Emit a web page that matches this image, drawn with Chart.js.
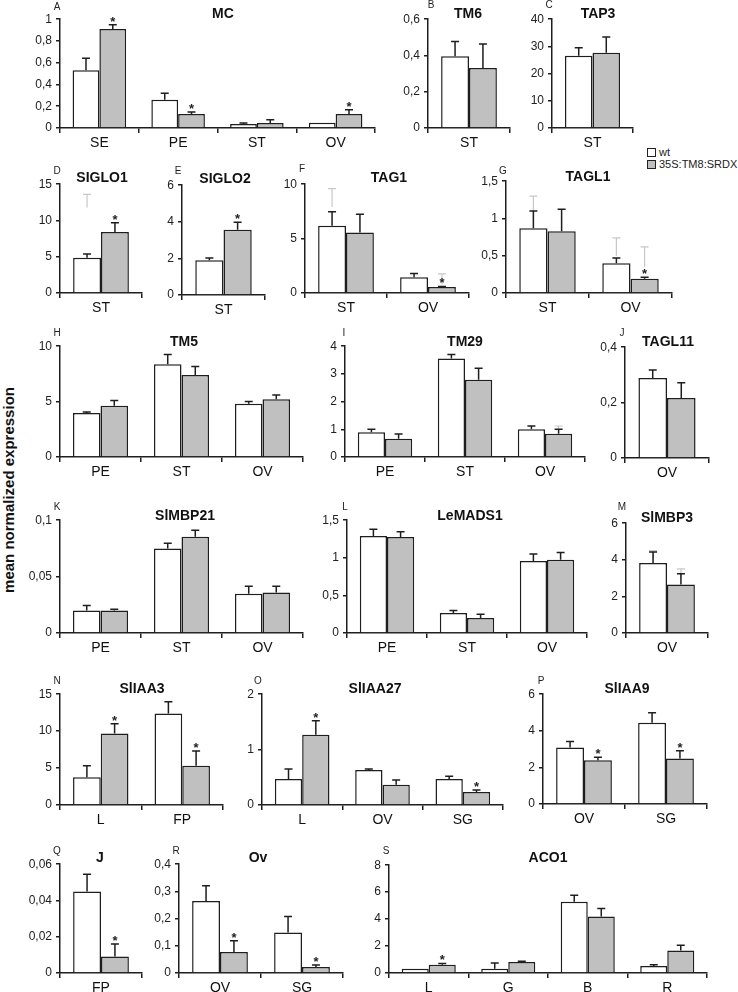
<!DOCTYPE html>
<html>
<head>
<meta charset="utf-8">
<script src="https://cdn.jsdelivr.net/npm/chart.js@4.4.1/dist/chart.umd.min.js"></script>
<style>
  body { margin: 0; background: #fff; width: 738px; height: 992px; position: relative; overflow: hidden;
         font-family: "Liberation Sans", Arial, sans-serif; color: #222; }
  canvas { position: absolute; }
  .ttl { position: absolute; font-weight: bold; font-size: 14px; transform: translate(-50%, -50%); white-space: nowrap; color: #111; }
  .let { position: absolute; font-size: 10px; transform: translate(-50%, -50%); }
  .ylab { position: absolute; left: 8px; top: 490px; font-weight: bold; font-size: 15px; white-space: nowrap;
          transform: translate(-50%, -50%) rotate(-90deg); color: #111; }
  .leg { position: absolute; font-size: 11px; white-space: nowrap; }
  .leg i { display: inline-block; width: 7px; height: 7px; border: 1px solid #222; margin-right: 3px; vertical-align: -1px; }
</style>
</head>
<body>
<div class="ylab">mean normalized expression</div>
<div class="leg" style="left:647px;top:146px"><i style="background:#fff"></i>wt</div>
<div class="leg" style="left:647px;top:158px"><i style="background:#c0c0c0"></i>35S:TM8:SRDX</div>
<script>
// A - MC
const A_cats = ["SE", "PE", "ST", "OV"];
const A_wt = [0.53, 0.26, 0.037, 0.049];
const A_wtSd = [0.11, 0.06, 0.009, 0];
const A_mut = [0.91, 0.128, 0.046, 0.128];
const A_mutSd = [0.04, 0.018, 0.03, 0.04];
const A_star = [1, 1, 0, 1];

// B - TM6
const B_cats = ["ST"];
const B_wt = [0.395];
const B_wtSd = [0.082];
const B_mut = [0.331];
const B_mutSd = [0.132];

// C - TAP3
const C_cats = ["ST"];
const C_wt = [26.6];
const C_wtSd = [2.9];
const C_mut = [27.7];
const C_mutSd = [5.8];

// D - SIGLO1
const D_cats = ["ST"];
const D_wt = [4.86];
const D_wtSd = [0.5];
const D_mut = [8.4];
const D_mutSd = [1.3];
const D_star = [1];
const D_wtGhost = [[11.8, 13.6]];

// E - SIGLO2
const E_cats = ["ST"];
const E_wt = [1.9];
const E_wtSd = [0.12];
const E_mut = [3.56];
const E_mutSd = [0.42];
const E_star = [1];

// F - TAG1
const F_cats = ["ST", "OV"];
const F_wt = [6.17, 1.45];
const F_wtSd = [1.3, 0.35];
const F_mut = [5.57, 0.54];
const F_mutSd = [1.66, 0.06];
const F_star = [0, 1];
const F_wtGhost = [[7.9, 9.6], null];
const F_mutGhost = [null, [0.8, 1.75]];

// G - TAGL1
const G_cats = ["ST", "OV"];
const G_wt = [0.87, 0.40];
const G_wtSd = [0.23, 0.07];
const G_mut = [0.83, 0.19];
const G_mutSd = [0.295, 0.02];
const G_star = [0, 1];
const G_wtGhost = [[0.95, 1.30], [0.5, 0.74]];
const G_mutGhost = [null, [0.35, 0.62]];

// H - TM5
const H_cats = ["PE", "ST", "OV"];
const H_wt = [3.98, 8.37, 4.81];
const H_wtSd = [0.09, 0.89, 0.2];
const H_mut = [4.63, 7.39, 5.22];
const H_mutSd = [0.47, 0.77, 0.38];

// I - TM29
const I_cats = ["PE", "ST", "OV"];
const I_wt = [0.89, 3.56, 1.0];
const I_wtSd = [0.11, 0.14, 0.12];
const I_mut = [0.66, 2.79, 0.84];
const I_mutSd = [0.17, 0.41, 0.16];
const I_mutGhost = [null, null, [1.0, 1.12]];

// J - TAGL11
const J_cats = ["OV"];
const J_wt = [0.289];
const J_wtSd = [0.029];
const J_mut = [0.217];
const J_mutSd = [0.055];

// K - SlMBP21
const K_cats = ["PE", "ST", "OV"];
const K_wt = [0.0199, 0.0749, 0.0348];
const K_wtSd = [0.0044, 0.0046, 0.0067];
const K_mut = [0.0199, 0.0854, 0.036];
const K_mutSd = [0.0011, 0.0056, 0.0055];

// L - LeMADS1
const L_cats = ["PE", "ST", "OV"];
const L_wt = [1.29, 0.265, 0.957];
const L_wtSd = [0.09, 0.035, 0.093];
const L_mut = [1.275, 0.2, 0.975];
const L_mutSd = [0.07, 0.05, 0.095];

// M - SlMBP3
const M_cats = ["OV"];
const M_wt = [3.83];
const M_wtSd = [0.59];
const M_mut = [2.65];
const M_mutSd = [0.59];
const M_wtGhost = [[4.0, 4.5]];
const M_mutGhost = [[3.0, 3.5]];

// N - SlIAA3
const N_cats = ["L", "FP"];
const N_wt = [3.76, 12.4];
const N_wtSd = [1.57, 1.57];
const N_mut = [9.67, 5.33];
const N_mutSd = [1.33, 1.97];
const N_star = [1, 1];

// O - SlIAA27
const O_cats = ["L", "OV", "SG"];
const O_wt = [0.47, 0.63, 0.47];
const O_wtSd = [0.18, 0.02, 0.05];
const O_mut = [1.27, 0.366, 0.234];
const O_mutSd = [0.25, 0.084, 0.036];
const O_star = [1, 0, 1];

// P - SlIAA9
const P_cats = ["OV", "SG"];
const P_wt = [3.09, 4.44];
const P_wtSd = [0.32, 0.54];
const P_mut = [2.39, 2.48];
const P_mutSd = [0.16, 0.43];
const P_star = [1, 1];

// Q - J
const Q_cats = ["FP"];
const Q_wt = [0.0449];
const Q_wtSd = [0.0096];
const Q_mut = [0.0091];
const Q_mutSd = [0.0069];
const Q_star = [1];

// R - Ov
const R_cats = ["OV", "SG"];
const R_wt = [0.265, 0.149];
const R_wtSd = [0.056, 0.059];
const R_mut = [0.0776, 0.0218];
const R_mutSd = [0.041, 0.008];
const R_star = [1, 1];

// S - ACO1
const S_cats = ["L", "G", "B", "R"];
const S_wt = [0.32, 0.32, 5.28, 0.52];
const S_wtSd = [0, 0.42, 0.49, 0.09];
const S_mut = [0.61, 0.81, 4.2, 1.67];
const S_mutSd = [0.1, 0.07, 0.59, 0.39];
const S_star = [1, 0, 0, 0];

// panel layout: box = [y axis x, x axis end, top of y axis, zero line y]
const panels = [
  { letter: "A", title: "MC", cats: A_cats, wt: A_wt, wtSd: A_wtSd, mut: A_mut, mutSd: A_mutSd, star: A_star,
    max: 1, step: 0.2, box: [60, 375, 18, 128], titleAt: [223, 13], letterAt: [57, 6] },
  { letter: "B", title: "TM6", cats: B_cats, wt: B_wt, wtSd: B_wtSd, mut: B_mut, mutSd: B_mutSd,
    max: 0.6, step: 0.2, box: [428, 510, 18, 128], titleAt: [468, 13], letterAt: [431, 4] },
  { letter: "C", title: "TAP3", cats: C_cats, wt: C_wt, wtSd: C_wtSd, mut: C_mut, mutSd: C_mutSd,
    max: 40, step: 10, box: [552, 633, 18, 128], titleAt: [598, 13], letterAt: [549, 4] },
  { letter: "D", title: "SIGLO1", cats: D_cats, wt: D_wt, wtSd: D_wtSd, mut: D_mut, mutSd: D_mutSd, star: D_star, wtGhost: D_wtGhost,
    max: 15, step: 5, box: [60, 142, 183, 293], titleAt: [102, 177], letterAt: [57, 170] },
  { letter: "E", title: "SIGLO2", cats: E_cats, wt: E_wt, wtSd: E_wtSd, mut: E_mut, mutSd: E_mutSd, star: E_star,
    max: 6, step: 2, box: [182, 265, 184, 295], titleAt: [225, 178], letterAt: [178, 170] },
  { letter: "F", title: "TAG1", cats: F_cats, wt: F_wt, wtSd: F_wtSd, mut: F_mut, mutSd: F_mutSd, star: F_star,
    wtGhost: F_wtGhost, mutGhost: F_mutGhost,
    max: 10, step: 5, box: [305, 469, 183, 293], titleAt: [389, 177], letterAt: [302, 168] },
  { letter: "G", title: "TAGL1", cats: G_cats, wt: G_wt, wtSd: G_wtSd, mut: G_mut, mutSd: G_mutSd, star: G_star,
    wtGhost: G_wtGhost, mutGhost: G_mutGhost,
    max: 1.5, step: 0.5, box: [506, 672, 180, 293], titleAt: [588, 176], letterAt: [503, 170] },
  { letter: "H", title: "TM5", cats: H_cats, wt: H_wt, wtSd: H_wtSd, mut: H_mut, mutSd: H_mutSd,
    max: 10, step: 5, box: [60, 303, 345, 457], titleAt: [184, 341], letterAt: [57, 332] },
  { letter: "I", title: "TM29", cats: I_cats, wt: I_wt, wtSd: I_wtSd, mut: I_mut, mutSd: I_mutSd, mutGhost: I_mutGhost,
    max: 4, step: 1, box: [345, 585, 345, 457], titleAt: [465, 341], letterAt: [344, 332] },
  { letter: "J", title: "TAGL11", cats: J_cats, wt: J_wt, wtSd: J_wtSd, mut: J_mut, mutSd: J_mutSd,
    max: 0.4, step: 0.2, box: [625, 709, 346, 458], titleAt: [668, 341], letterAt: [622, 332] },
  { letter: "K", title: "SlMBP21", cats: K_cats, wt: K_wt, wtSd: K_wtSd, mut: K_mut, mutSd: K_mutSd,
    max: 0.1, step: 0.05, box: [60, 303, 519, 633], titleAt: [185, 515], letterAt: [57, 506] },
  { letter: "L", title: "LeMADS1", cats: L_cats, wt: L_wt, wtSd: L_wtSd, mut: L_mut, mutSd: L_mutSd,
    max: 1.5, step: 0.5, box: [347, 587, 519, 633], titleAt: [470, 515], letterAt: [345, 506] },
  { letter: "M", title: "SlMBP3", cats: M_cats, wt: M_wt, wtSd: M_wtSd, mut: M_mut, mutSd: M_mutSd,
    wtGhost: M_wtGhost, mutGhost: M_mutGhost,
    max: 6, step: 2, box: [626, 708, 522, 633], titleAt: [667, 517], letterAt: [622, 506] },
  { letter: "N", title: "SlIAA3", cats: N_cats, wt: N_wt, wtSd: N_wtSd, mut: N_mut, mutSd: N_mutSd, star: N_star,
    max: 15, step: 5, box: [60, 223, 693, 805], titleAt: [142, 688], letterAt: [57, 680] },
  { letter: "O", title: "SlIAA27", cats: O_cats, wt: O_wt, wtSd: O_wtSd, mut: O_mut, mutSd: O_mutSd, star: O_star,
    max: 2, step: 1, box: [262, 503, 693, 805], titleAt: [375, 688], letterAt: [258, 680] },
  { letter: "P", title: "SlIAA9", cats: P_cats, wt: P_wt, wtSd: P_wtSd, mut: P_mut, mutSd: P_mutSd, star: P_star,
    max: 6, step: 2, box: [543, 707, 693, 804], titleAt: [627, 688], letterAt: [541, 680] },
  { letter: "Q", title: "J", cats: Q_cats, wt: Q_wt, wtSd: Q_wtSd, mut: Q_mut, mutSd: Q_mutSd, star: Q_star,
    max: 0.06, step: 0.02, box: [60, 142, 863, 973], titleAt: [100, 857], letterAt: [57, 850] },
  { letter: "R", title: "Ov", cats: R_cats, wt: R_wt, wtSd: R_wtSd, mut: R_mut, mutSd: R_mutSd, star: R_star,
    max: 0.4, step: 0.1, box: [179, 343, 863, 973], titleAt: [258, 857], letterAt: [176, 850] },
  { letter: "S", title: "ACO1", cats: S_cats, wt: S_wt, wtSd: S_wtSd, mut: S_mut, mutSd: S_mutSd, star: S_star,
    max: 8, step: 2, box: [389, 707, 864, 973], titleAt: [548, 857], letterAt: [386, 850] },
];

const INK = "#1e1e1e";
Chart.defaults.font.family = '"Liberation Sans", Arial, sans-serif';
Chart.defaults.color = "#222";

// error bars (+ faint ghost whiskers) and significance stars
const whiskers = {
  id: "whiskers",
  afterDatasetsDraw(chart) {
    const ctx = chart.ctx;
    const y = chart.scales.y;
    chart.data.datasets.forEach((ds, i) => {
      chart.getDatasetMeta(i).data.forEach((bar, j) => {
        const v = ds.data[j];
        ctx.save();
        const g = ds.ghost && ds.ghost[j];
        if (g) {
          const lo = y.getPixelForValue(g[0]), hi = y.getPixelForValue(g[1]);
          ctx.strokeStyle = "#c8c8c8";
          ctx.lineWidth = 1.2;
          ctx.beginPath();
          ctx.moveTo(bar.x, lo); ctx.lineTo(bar.x, hi);
          ctx.moveTo(bar.x - 4, hi); ctx.lineTo(bar.x + 4, hi);
          ctx.stroke();
        }
        let top = bar.y;
        const sd = ds.sd[j];
        if (sd > 0) {
          top = y.getPixelForValue(v + sd);
          ctx.strokeStyle = INK;
          ctx.lineWidth = 1.5;
          ctx.beginPath();
          ctx.moveTo(bar.x, bar.y); ctx.lineTo(bar.x, top);
          ctx.moveTo(bar.x - 4, top); ctx.lineTo(bar.x + 4, top);
          ctx.stroke();
        }
        if (ds.star && ds.star[j]) {
          ctx.fillStyle = "#222";
          ctx.font = 'bold 13px "Liberation Sans", Arial, sans-serif';
          ctx.textAlign = "center";
          ctx.textBaseline = "alphabetic";
          ctx.fillText("*", bar.x, top + 1);
        }
        ctx.restore();
      });
    });
  }
};

const fmt = v => String(+v.toFixed(4)).replace(".", ",");

function addText(cls, text, at) {
  const d = document.createElement("div");
  d.className = cls;
  d.textContent = text;
  d.style.left = at[0] + "px";
  d.style.top = at[1] + "px";
  document.body.appendChild(d);
}

function makePanel(p) {
  const [ax, xEnd, top, zero] = p.box;
  const W_Y = 40, H_X = 30, PT = 10, PR = 4;
  const w = xEnd - ax + W_Y + PR;
  const h = zero - top + PT + H_X;
  const canvas = document.createElement("canvas");
  canvas.width = w;
  canvas.height = h;
  canvas.style.left = (ax - W_Y) + "px";
  canvas.style.top = (top - PT) + "px";
  canvas.style.width = w + "px";
  canvas.style.height = h + "px";
  document.body.appendChild(canvas);

  new Chart(canvas, {
    type: "bar",
    data: {
      labels: p.cats,
      datasets: [
        { label: "wt", data: p.wt, sd: p.wtSd, ghost: p.wtGhost,
          backgroundColor: "#ffffff", borderColor: INK, borderWidth: 1.5 },
        { label: "35S:TM8:SRDX", data: p.mut, sd: p.mutSd, ghost: p.mutGhost, star: p.star,
          backgroundColor: "#c0c0c0", borderColor: INK, borderWidth: 1.5 },
      ],
    },
    options: {
      responsive: false,
      animation: false,
      devicePixelRatio: 1,
      layout: { padding: { top: PT, right: PR, left: 0, bottom: 0 } },
      datasets: { bar: { categoryPercentage: 0.68, barPercentage: 1 } },
      plugins: { legend: { display: false }, tooltip: { enabled: false } },
      scales: {
        x: {
          grid: { display: true, drawOnChartArea: false, offset: true, tickLength: 5, color: INK, lineWidth: 1.5 },
          border: { color: INK, width: 1.5 },
          ticks: { font: { size: 14 }, color: "#111", padding: 2, maxRotation: 0, autoSkip: false },
          afterFit: s => { s.height = H_X; },
        },
        y: {
          min: 0,
          max: p.max,
          grid: { drawOnChartArea: false, tickLength: 4, color: INK, lineWidth: 1.5 },
          border: { color: INK, width: 1.5 },
          ticks: { stepSize: p.step, font: { size: 12 }, color: "#222", padding: 4, callback: fmt },
          afterFit: s => { s.width = W_Y; },
        },
      },
    },
    plugins: [whiskers],
  });

  addText("ttl", p.title, p.titleAt);
  addText("let", p.letter, p.letterAt);
}

panels.forEach(makePanel);
</script>
</body>
</html>
